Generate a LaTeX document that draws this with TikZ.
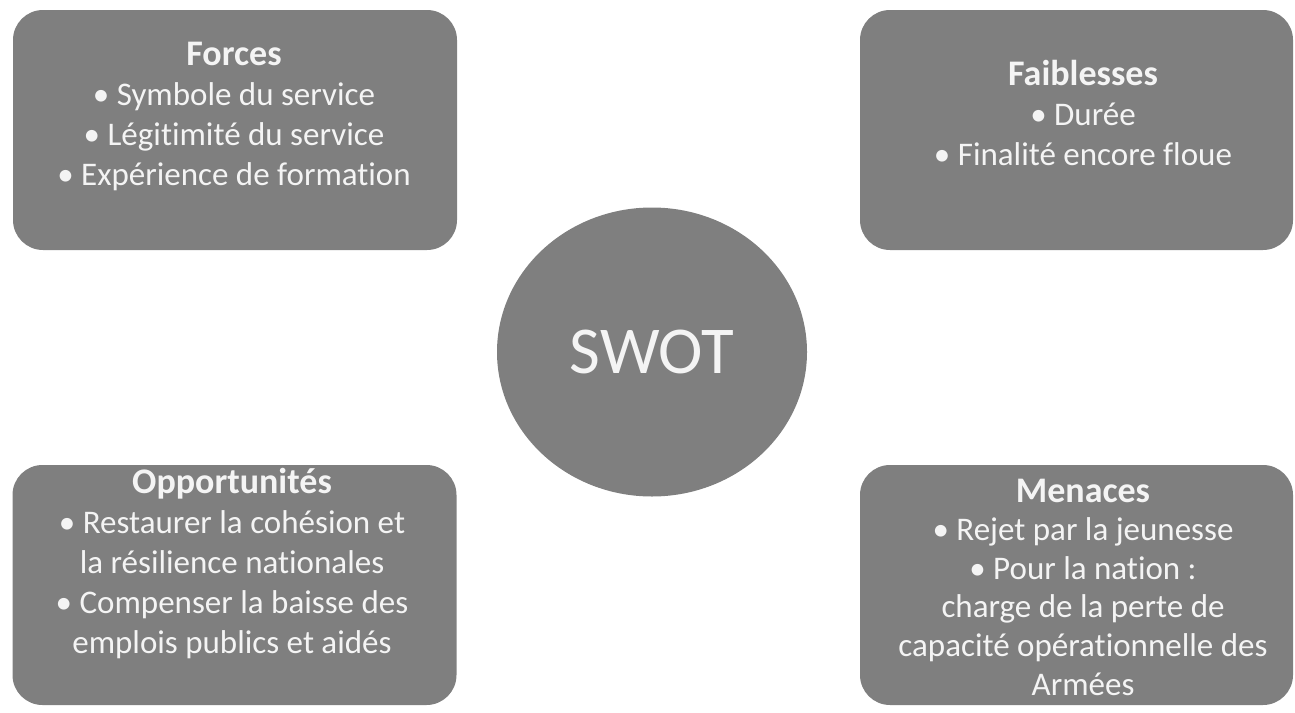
\documentclass[tikz,border=0pt]{standalone}
\usepackage{fontspec}
\setmainfont{Carlito}[Ligatures=NoCommon]
\usetikzlibrary{positioning,shapes.geometric}
\definecolor{swotgray}{HTML}{7F7F7F}
\definecolor{swottext}{HTML}{F4F4F4}
\newcommand{\swottitle}[1]{{\fontsize{18}{20}\selectfont\bfseries #1}}

\begin{document}
\begin{tikzpicture}[x=0.5pt,y=-0.5pt,
	box/.style={fill=swotgray,rounded corners=15pt,minimum width=222pt,minimum height=120pt,inner sep=0pt},
	boxtext/.style={text=swottext,align=center,anchor=base,inner sep=0pt,font=\fontsize{16.5}{20}\selectfont}]
	
	\useasboundingbox (0,0) rectangle (1295,712);
	
	% quadrants
	\node[box] (forces) at (235, 130)     {};
	\node[box,minimum width=216.5pt] (faiblesses) at (1076.5, 130)     {};
	\node[box] (opport) at (234.5, 585)     {};
	\node[box,minimum width=216.5pt] (menaces) at (1076.5, 585)     {};
	
	% centre
	\node[ellipse,fill=swotgray,minimum width=155pt,minimum height=144.5pt,inner sep=0pt,text=swottext,font=\fontsize{33.5}{40}\selectfont] (swot) at (652, 352)     {SWOT};
	
	% texts (base = last line)
	\node[boxtext] (forcestxt) at (234, 185)     {\swottitle{Forces}\\• Symbole du service\\• Légitimité du service\\• Expérience de formation};
	\node[boxtext] (faiblessestxt) at (1083, 165)     {\swottitle{Faiblesses}\\• Durée\\• Finalité encore floue};
	\node[boxtext] (opporttxt) at (232, 653)     {\swottitle{Opportunités}\\• Restaurer la cohésion et\\la résilience nationales\\• Compenser la baisse des\\emplois publics et aidés};
	\node[boxtext,font=\fontsize{16.5}{19.3}\selectfont] (menacestxt) at (1083, 695)     {\swottitle{Menaces}\\• Rejet par la jeunesse\\• Pour la nation :\\charge de la perte de\\capacité opérationnelle des\\Armées};

\end{tikzpicture}
\end{document}
